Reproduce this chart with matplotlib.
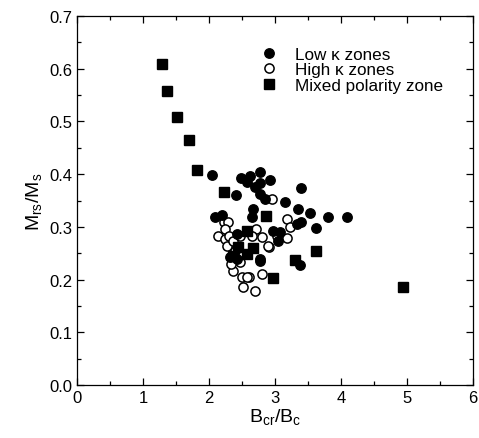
import matplotlib
matplotlib.use('Agg')
import matplotlib.pyplot as plt
from matplotlib.ticker import MultipleLocator

plt.rcParams['font.family'] = ['Liberation Sans', 'DejaVu Sans']
plt.rcParams['mathtext.fontset'] = 'custom'
plt.rcParams['mathtext.rm'] = 'Liberation Sans'
plt.rcParams['mathtext.it'] = 'Liberation Sans'

# Low kappa zones (filled circles)
low_x = [2.04, 2.41, 2.48, 2.62, 2.77, 2.77, 2.92, 2.70, 2.77, 2.85, 2.57,
         3.40, 3.15, 3.35, 3.53, 3.81, 4.09, 3.63, 3.40, 3.33, 3.08, 2.97,
         3.05, 2.67, 2.65, 2.09, 2.19, 2.42, 2.77, 2.32, 2.42, 3.38, 2.77]
low_y = [0.399, 0.361, 0.393, 0.396, 0.405, 0.383, 0.388, 0.375, 0.362, 0.353, 0.386,
         0.373, 0.347, 0.334, 0.326, 0.318, 0.318, 0.297, 0.309, 0.305, 0.290, 0.293,
         0.274, 0.334, 0.318, 0.318, 0.323, 0.286, 0.239, 0.242, 0.239, 0.228, 0.236]

# High kappa zones (open circles)
high_x = [2.95, 3.18, 3.23, 3.19, 3.03, 2.91, 2.80, 2.72, 2.65, 2.22, 2.29,
          2.24, 2.14, 2.24, 2.31, 2.27, 2.37, 2.47, 2.37, 2.50, 2.60, 2.52,
          2.70, 2.80, 2.47, 2.39, 2.90, 2.34, 2.57]
high_y = [0.352, 0.314, 0.299, 0.278, 0.283, 0.261, 0.280, 0.296, 0.283, 0.310, 0.309,
          0.296, 0.283, 0.277, 0.283, 0.264, 0.274, 0.283, 0.217, 0.204, 0.204, 0.185,
          0.179, 0.211, 0.233, 0.255, 0.264, 0.230, 0.204]

# Mixed polarity zone (filled squares)
mix_x = [1.28, 1.37, 1.52, 1.69, 1.82, 2.23, 2.86, 3.62, 3.30, 2.97, 4.94,
         2.57, 2.44, 2.67, 2.37, 2.57]
mix_y = [0.610, 0.557, 0.509, 0.465, 0.408, 0.366, 0.321, 0.255, 0.237, 0.203, 0.186,
         0.293, 0.261, 0.259, 0.245, 0.249]

fig = plt.figure(figsize=(4.79, 4.39), dpi=100)
ax = fig.add_axes([0.161, 0.121, 0.826, 0.840])

ax.plot(mix_x, mix_y, 's', color='black', markersize=7.2, linestyle='none',
        label='Mixed polarity zone', zorder=3)
ax.plot(high_x, high_y, 'o', markerfacecolor='white', markeredgecolor='black',
        markeredgewidth=1.1, markersize=6.6, linestyle='none',
        label='High \u03ba zones', zorder=2)
ax.plot(low_x, low_y, 'o', color='black', markersize=6.8, linestyle='none',
        label='Low \u03ba zones', zorder=2.5)

ax.set_xlim(0, 6)
ax.set_ylim(0, 0.7)
ax.xaxis.set_major_locator(MultipleLocator(1))
ax.xaxis.set_minor_locator(MultipleLocator(0.5))
ax.yaxis.set_major_locator(MultipleLocator(0.1))
ax.yaxis.set_minor_locator(MultipleLocator(0.05))
ax.yaxis.set_major_formatter(plt.FormatStrFormatter('%.1f'))
ax.tick_params(which='both', direction='in', top=True, right=True, labelsize=12)
ax.tick_params(which='major', length=5, width=0.9)
ax.tick_params(which='minor', length=3, width=0.9)
for s in ax.spines.values():
    s.set_linewidth(0.9)

ax.set_xlabel(r'$\mathregular{B_{cr}/B_c}$', fontsize=14, labelpad=1)
ax.set_ylabel(r'$\mathregular{M_{rs}/M_s}$', fontsize=14, labelpad=4)

handles, labels = ax.get_legend_handles_labels()
order = [2, 1, 0]
ax.legend([handles[i] for i in order], [labels[i] for i in order],
          loc='upper left', bbox_to_anchor=(0.43, 0.95), frameon=False,
          fontsize=12.3, handletextpad=0.9, labelspacing=0.05, borderpad=0.2,
          handlelength=1.2)

fig.savefig('out.png', dpi=100)
